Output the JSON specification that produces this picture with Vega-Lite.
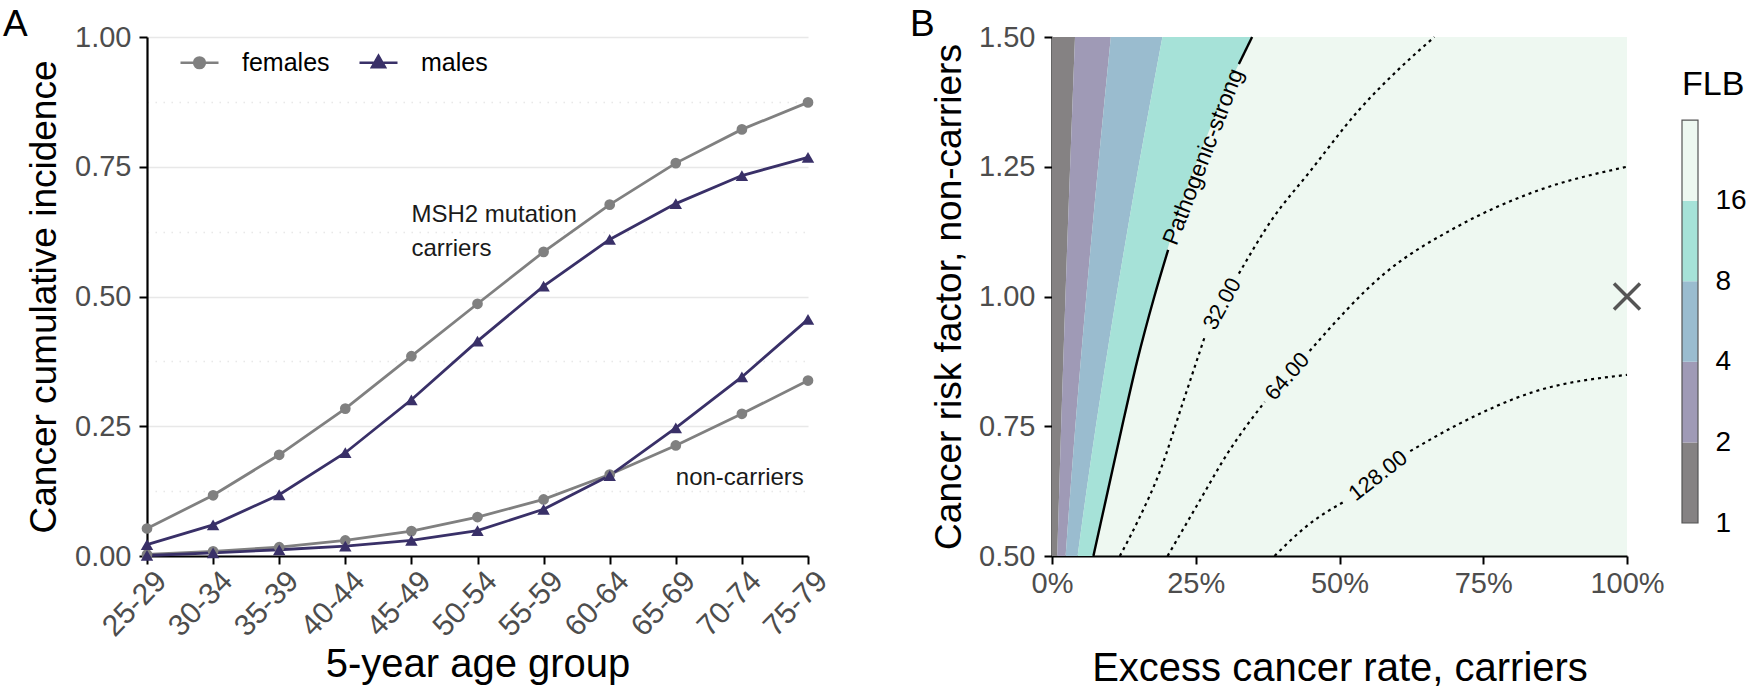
{
  "$schema": "https://vega.github.io/schema/vega-lite/v6.json",
  "background": "white",
  "padding": {"left": 3, "top": 6, "right": 0, "bottom": 0},
  "config": {
    "font": "Liberation Sans",
    "view": {"stroke": null},
    "axis": {"labelFont": "Liberation Sans", "titleFont": "Liberation Sans", "labelFontSize": 29, "titleFontSize": 37, "titleFontWeight": "normal", "labelColor": "#4d4d4d", "titleColor": "black", "domainColor": "black", "domainWidth": 2.2, "tickColor": "black", "tickWidth": 2, "tickSize": 8, "grid": false, "labelPadding": 8},
    "title": {"font": "Liberation Sans"},
    "legend": {"labelFont": "Liberation Sans"},
    "text": {"font": "Liberation Sans"}
  },
  "datasets": {
    "incidence": [
      {"age": "25-29", "sex": "females", "status": "carriers", "value": 0.053},
      {"age": "30-34", "sex": "females", "status": "carriers", "value": 0.117},
      {"age": "35-39", "sex": "females", "status": "carriers", "value": 0.195},
      {"age": "40-44", "sex": "females", "status": "carriers", "value": 0.284},
      {"age": "45-49", "sex": "females", "status": "carriers", "value": 0.385},
      {"age": "50-54", "sex": "females", "status": "carriers", "value": 0.486},
      {"age": "55-59", "sex": "females", "status": "carriers", "value": 0.586},
      {"age": "60-64", "sex": "females", "status": "carriers", "value": 0.677},
      {"age": "65-69", "sex": "females", "status": "carriers", "value": 0.757},
      {"age": "70-74", "sex": "females", "status": "carriers", "value": 0.822},
      {"age": "75-79", "sex": "females", "status": "carriers", "value": 0.874},
      {"age": "25-29", "sex": "males", "status": "carriers", "value": 0.022},
      {"age": "30-34", "sex": "males", "status": "carriers", "value": 0.060},
      {"age": "35-39", "sex": "males", "status": "carriers", "value": 0.118},
      {"age": "40-44", "sex": "males", "status": "carriers", "value": 0.199},
      {"age": "45-49", "sex": "males", "status": "carriers", "value": 0.301},
      {"age": "50-54", "sex": "males", "status": "carriers", "value": 0.414},
      {"age": "55-59", "sex": "males", "status": "carriers", "value": 0.520},
      {"age": "60-64", "sex": "males", "status": "carriers", "value": 0.610},
      {"age": "65-69", "sex": "males", "status": "carriers", "value": 0.679},
      {"age": "70-74", "sex": "males", "status": "carriers", "value": 0.733},
      {"age": "75-79", "sex": "males", "status": "carriers", "value": 0.768},
      {"age": "25-29", "sex": "females", "status": "non-carriers", "value": 0.003},
      {"age": "30-34", "sex": "females", "status": "non-carriers", "value": 0.009},
      {"age": "35-39", "sex": "females", "status": "non-carriers", "value": 0.017},
      {"age": "40-44", "sex": "females", "status": "non-carriers", "value": 0.030},
      {"age": "45-49", "sex": "females", "status": "non-carriers", "value": 0.048},
      {"age": "50-54", "sex": "females", "status": "non-carriers", "value": 0.075},
      {"age": "55-59", "sex": "females", "status": "non-carriers", "value": 0.109},
      {"age": "60-64", "sex": "females", "status": "non-carriers", "value": 0.157},
      {"age": "65-69", "sex": "females", "status": "non-carriers", "value": 0.213},
      {"age": "70-74", "sex": "females", "status": "non-carriers", "value": 0.274},
      {"age": "75-79", "sex": "females", "status": "non-carriers", "value": 0.338},
      {"age": "25-29", "sex": "males", "status": "non-carriers", "value": 0.001},
      {"age": "30-34", "sex": "males", "status": "non-carriers", "value": 0.006},
      {"age": "35-39", "sex": "males", "status": "non-carriers", "value": 0.012},
      {"age": "40-44", "sex": "males", "status": "non-carriers", "value": 0.019},
      {"age": "45-49", "sex": "males", "status": "non-carriers", "value": 0.030},
      {"age": "50-54", "sex": "males", "status": "non-carriers", "value": 0.049},
      {"age": "55-59", "sex": "males", "status": "non-carriers", "value": 0.090},
      {"age": "60-64", "sex": "males", "status": "non-carriers", "value": 0.155},
      {"age": "65-69", "sex": "males", "status": "non-carriers", "value": 0.247},
      {"age": "70-74", "sex": "males", "status": "non-carriers", "value": 0.345},
      {"age": "75-79", "sex": "males", "status": "non-carriers", "value": 0.456}
    ],
    "bands": [
      {"y": 0.5, "band": "1-2", "x": 0, "x2": 0.009}, {"y": 0.5, "band": "2-4", "x": 0.009, "x2": 0.0237}, {"y": 0.5, "band": "4-8", "x": 0.0237, "x2": 0.0445}, {"y": 0.5, "band": "8-16", "x": 0.0445, "x2": 0.072},
      {"y": 0.625, "band": "1-2", "x": 0, "x2": 0.0125}, {"y": 0.625, "band": "2-4", "x": 0.0125, "x2": 0.0319}, {"y": 0.625, "band": "4-8", "x": 0.0319, "x2": 0.0599}, {"y": 0.625, "band": "8-16", "x": 0.0599, "x2": 0.097},
      {"y": 0.75, "band": "1-2", "x": 0, "x2": 0.0159}, {"y": 0.75, "band": "2-4", "x": 0.0159, "x2": 0.0406}, {"y": 0.75, "band": "4-8", "x": 0.0406, "x2": 0.0763}, {"y": 0.75, "band": "8-16", "x": 0.0763, "x2": 0.122},
      {"y": 0.875, "band": "1-2", "x": 0, "x2": 0.0196}, {"y": 0.875, "band": "2-4", "x": 0.0196, "x2": 0.0499}, {"y": 0.875, "band": "4-8", "x": 0.0499, "x2": 0.0937}, {"y": 0.875, "band": "8-16", "x": 0.0937, "x2": 0.148},
      {"y": 1.0, "band": "1-2", "x": 0, "x2": 0.0234}, {"y": 1.0, "band": "2-4", "x": 0.0234, "x2": 0.0596}, {"y": 1.0, "band": "4-8", "x": 0.0596, "x2": 0.1119}, {"y": 1.0, "band": "8-16", "x": 0.1119, "x2": 0.178},
      {"y": 1.125, "band": "1-2", "x": 0, "x2": 0.0273}, {"y": 1.125, "band": "2-4", "x": 0.0273, "x2": 0.0697}, {"y": 1.125, "band": "4-8", "x": 0.0697, "x2": 0.1308}, {"y": 1.125, "band": "8-16", "x": 0.1308, "x2": 0.210},
      {"y": 1.25, "band": "1-2", "x": 0, "x2": 0.0315}, {"y": 1.25, "band": "2-4", "x": 0.0315, "x2": 0.0802}, {"y": 1.25, "band": "4-8", "x": 0.0802, "x2": 0.1505}, {"y": 1.25, "band": "8-16", "x": 0.1505, "x2": 0.249},
      {"y": 1.375, "band": "1-2", "x": 0, "x2": 0.0357}, {"y": 1.375, "band": "2-4", "x": 0.0357, "x2": 0.0911}, {"y": 1.375, "band": "4-8", "x": 0.0911, "x2": 0.171}, {"y": 1.375, "band": "8-16", "x": 0.171, "x2": 0.294},
      {"y": 1.5, "band": "1-2", "x": 0, "x2": 0.040}, {"y": 1.5, "band": "2-4", "x": 0.040, "x2": 0.1023}, {"y": 1.5, "band": "4-8", "x": 0.1023, "x2": 0.192}, {"y": 1.5, "band": "8-16", "x": 0.192, "x2": 0.348}
    ],
    "contours": [
      {"level": 16, "seg": "16a", "x": 0.072, "y": 0.5}, {"level": 16, "seg": "16a", "x": 0.097, "y": 0.625}, {"level": 16, "seg": "16a", "x": 0.122, "y": 0.75}, {"level": 16, "seg": "16a", "x": 0.148, "y": 0.875}, {"level": 16, "seg": "16a", "x": 0.178, "y": 1.0}, {"level": 16, "seg": "16a", "x": 0.202, "y": 1.09},
      {"level": 16, "seg": "16b", "x": 0.325, "y": 1.448}, {"level": 16, "seg": "16b", "x": 0.348, "y": 1.5},
      {"level": 32, "seg": "32a", "x": 0.118, "y": 0.5}, {"level": 32, "seg": "32a", "x": 0.150, "y": 0.569}, {"level": 32, "seg": "32a", "x": 0.189, "y": 0.667}, {"level": 32, "seg": "32a", "x": 0.228, "y": 0.797}, {"level": 32, "seg": "32a", "x": 0.267, "y": 0.927},
      {"level": 32, "seg": "32b", "x": 0.325, "y": 1.044}, {"level": 32, "seg": "32b", "x": 0.383, "y": 1.149}, {"level": 32, "seg": "32b", "x": 0.448, "y": 1.24}, {"level": 32, "seg": "32b", "x": 0.532, "y": 1.357}, {"level": 32, "seg": "32b", "x": 0.604, "y": 1.439}, {"level": 32, "seg": "32b", "x": 0.665, "y": 1.5},
      {"level": 64, "seg": "64a", "x": 0.201, "y": 0.5}, {"level": 64, "seg": "64a", "x": 0.254, "y": 0.601}, {"level": 64, "seg": "64a", "x": 0.306, "y": 0.699}, {"level": 64, "seg": "64a", "x": 0.37, "y": 0.797},
      {"level": 64, "seg": "64b", "x": 0.448, "y": 0.895}, {"level": 64, "seg": "64b", "x": 0.578, "y": 1.044}, {"level": 64, "seg": "64b", "x": 0.707, "y": 1.136}, {"level": 64, "seg": "64b", "x": 0.837, "y": 1.201}, {"level": 64, "seg": "64b", "x": 1.0, "y": 1.25},
      {"level": 128, "seg": "128a", "x": 0.387, "y": 0.5}, {"level": 128, "seg": "128a", "x": 0.448, "y": 0.562}, {"level": 128, "seg": "128a", "x": 0.51, "y": 0.606},
      {"level": 128, "seg": "128b", "x": 0.623, "y": 0.702}, {"level": 128, "seg": "128b", "x": 0.707, "y": 0.754}, {"level": 128, "seg": "128b", "x": 0.837, "y": 0.816}, {"level": 128, "seg": "128b", "x": 1.0, "y": 0.849}
    ],
    "labels": [
      {"label": "Pathogenic-strong", "x": 0.2635, "y": 1.269},
      {"label": "32.00", "x": 0.296, "y": 0.986},
      {"label": "64.00", "x": 0.409, "y": 0.846},
      {"label": "128.00", "x": 0.567, "y": 0.655}
    ],
    "marker": [{"x": 1.0, "y": 1.0}],
    "colorbar": [
      {"band": "1-2", "lo": 1, "hi": 2},
      {"band": "2-4", "lo": 2, "hi": 4},
      {"band": "4-8", "lo": 4, "hi": 8},
      {"band": "8-16", "lo": 8, "hi": 16},
      {"band": "16+", "lo": 16, "hi": 32}
    ]
  },
  "bounds": "flush",
  "spacing": 244,
  "resolve": {"scale": {"color": "independent", "shape": "independent"}, "legend": {"color": "independent"}},
  "hconcat": [
    {
      "width": 661,
      "height": 519,
      "title": {"text": "A", "anchor": "start", "frame": "group", "fontSize": 37, "fontWeight": "normal", "color": "black", "baseline": "alphabetic", "offset": 0, "dx": -144, "dy": 50},
      "data": {"name": "incidence"},
      "encoding": {
        "x": {"field": "age", "type": "ordinal", "scale": {"type": "point", "padding": 0}, "title": "5-year age group",
          "axis": {"labelAngle": -46, "labelAlign": "right", "labelBaseline": "middle", "labelOffset": 14, "labelPadding": 12, "labelOverlap": false, "labelFontSize": 30, "titlePadding": 3, "titleFontSize": 40}},
        "y": {"field": "value", "type": "quantitative", "scale": {"domain": [0, 1], "nice": false}, "title": "Cancer cumulative incidence",
          "axis": {"values": [0, 0.125, 0.25, 0.375, 0.5, 0.625, 0.75, 0.875, 1], "labelExpr": "datum.value % 0.25 === 0 ? format(datum.value, '.2f') : ''",
            "grid": true, "gridColor": "#e8e8e8", "gridWidth": 1.6,
            "gridDash": {"condition": {"test": "datum.value % 0.25 !== 0", "value": [1.5, 6.5]}, "value": []},
            "tickOpacity": {"condition": {"test": "datum.value % 0.25 !== 0", "value": 0}, "value": 1},
            "labelPadding": 8, "titlePadding": 11}}
      },
      "layer": [
        {
          "mark": {"type": "line", "strokeWidth": 2.8},
          "encoding": {
            "color": {"field": "sex", "type": "nominal", "scale": {"domain": ["females", "males"], "range": ["#808080", "#393068"]},
              "legend": {"title": null, "orient": "none", "legendX": 32, "legendY": 5, "direction": "horizontal", "symbolSize": 1444, "symbolStrokeWidth": 2.6, "labelFontSize": 25, "labelColor": "black", "labelOffset": 22, "columnPadding": 24, "padding": 0,
                "encode": {"symbols": {"update": {
                  "shape": {"signal": "datum.value === 'females' ? 'M-1,0L1,0M0.28,0A0.28,0.28 0 1,1 -0.28,0A0.28,0.28 0 1,1 0.28,0Z' : 'M-1,0L1,0M0,-0.36L0.34,0.24L-0.34,0.24Z'"},
                  "fill": {"signal": "datum.value === 'females' ? '#808080' : '#393068'"},
                  "stroke": {"signal": "datum.value === 'females' ? '#808080' : '#393068'"},
                  "strokeWidth": {"value": 2.6},
                  "opacity": {"value": 1}}}}}},
            "detail": {"field": "status"}
          }
        },
        {
          "transform": [{"filter": "datum.sex === 'females'"}],
          "mark": {"type": "point", "shape": "circle", "filled": true, "opacity": 1, "size": 115},
          "encoding": {"color": {"field": "sex", "type": "nominal"}}
        },
        {
          "transform": [{"filter": "datum.sex === 'males'"}],
          "mark": {"type": "point", "shape": "triangle-up", "filled": true, "opacity": 1, "size": 155},
          "encoding": {"color": {"field": "sex", "type": "nominal"}}
        },
        {
          "data": {"values": [
            {"age": "45-49", "value": 0.657, "label": "MSH2 mutation|carriers"},
            {"age": "65-69", "value": 0.151, "label": "non-carriers"}
          ]},
          "mark": {"type": "text", "align": "left", "baseline": "middle", "fontSize": 24, "lineBreak": "|", "lineHeight": 34, "color": "#1a1a1a"},
          "encoding": {"text": {"field": "label"}}
        }
      ]
    },
    {
      "bounds": "flush",
      "spacing": 55,
      "resolve": {"scale": {"color": "independent"}, "legend": {"color": "independent"}},
      "hconcat": [
        {
          "width": 575,
          "height": 519,
          "title": {"text": "B", "anchor": "start", "frame": "group", "fontSize": 37, "fontWeight": "normal", "color": "black", "baseline": "alphabetic", "offset": 0, "dx": -142, "dy": 50},
          "view": {"fill": "#eef8f1", "stroke": null},
          "encoding": {
            "x": {"field": "x", "type": "quantitative", "scale": {"domain": [0, 1], "nice": false}, "title": "Excess cancer rate, carriers",
              "axis": {"values": [0, 0.25, 0.5, 0.75, 1], "format": ".0%", "labelFlush": false, "labelPadding": 5, "titlePadding": 50, "titleFontSize": 40}},
            "y": {"field": "y", "type": "quantitative", "scale": {"domain": [0.5, 1.5], "nice": false}, "title": "Cancer risk factor, non-carriers",
              "axis": {"values": [0.5, 0.75, 1, 1.25, 1.5], "format": ".2f", "labelPadding": 9, "titlePadding": 10}}
          },
          "layer": [
            {
              "data": {"name": "bands"},
              "mark": {"type": "area", "orient": "horizontal", "interpolate": "monotone", "opacity": 1},
              "encoding": {
                "x": {"field": "x", "type": "quantitative", "stack": null},
                "x2": {"field": "x2"},
                "color": {"field": "band", "type": "nominal", "scale": {"domain": ["1-2", "2-4", "4-8", "8-16"], "range": ["#858283", "#9f9ab6", "#9abccf", "#a6e2d8"]}, "legend": null}
              }
            },
            {
              "data": {"name": "contours"},
              "transform": [{"filter": "datum.level === 16"}],
              "mark": {"type": "line", "color": "black", "strokeWidth": 2.4, "interpolate": "monotone"},
              "encoding": {"detail": {"field": "seg"}}
            },
            {
              "data": {"name": "contours"},
              "transform": [{"filter": "datum.level !== 16"}],
              "mark": {"type": "line", "color": "black", "strokeWidth": 2.2, "strokeDash": [3, 4], "interpolate": "monotone"},
              "encoding": {"detail": {"field": "seg"}}
            },
            {
              "data": {"name": "labels"},
              "transform": [{"filter": "datum.label === 'Pathogenic-strong'"}],
              "mark": {"type": "text", "angle": 291, "fontSize": 23, "color": "black", "align": "center", "baseline": "middle"},
              "encoding": {"text": {"field": "label"}}
            },
            {
              "data": {"name": "labels"},
              "transform": [{"filter": "datum.label === '32.00'"}],
              "mark": {"type": "text", "angle": 299, "fontSize": 22, "color": "black", "align": "center", "baseline": "middle"},
              "encoding": {"text": {"field": "label"}}
            },
            {
              "data": {"name": "labels"},
              "transform": [{"filter": "datum.label === '64.00'"}],
              "mark": {"type": "text", "angle": 311, "fontSize": 22, "color": "black", "align": "center", "baseline": "middle"},
              "encoding": {"text": {"field": "label"}}
            },
            {
              "data": {"name": "labels"},
              "transform": [{"filter": "datum.label === '128.00'"}],
              "mark": {"type": "text", "angle": 322, "fontSize": 22, "color": "black", "align": "center", "baseline": "middle"},
              "encoding": {"text": {"field": "label"}}
            },
            {
              "data": {"name": "marker"},
              "mark": {"type": "point", "shape": "M-1,-1L1,1M-1,1L1,-1", "filled": false, "color": "#555555", "strokeWidth": 3.5, "size": 676, "opacity": 1}
            }
          ]
        },
        {
          "width": 16,
          "height": 519,
          "title": {"text": "FLB", "anchor": "start", "frame": "group", "fontSize": 34, "fontWeight": "normal", "color": "black", "baseline": "alphabetic", "offset": 0, "dy": 92},
          "layer": [
            {
              "data": {"name": "colorbar"},
              "mark": {"type": "rect"},
              "encoding": {
                "y": {"field": "lo", "type": "quantitative", "scale": {"type": "log", "domain": [0.753, 65.4], "nice": false}, "title": null,
                  "axis": {"orient": "right", "values": [1, 2, 4, 8, 16], "format": "d", "domain": false, "ticks": false, "labelPadding": 17, "labelColor": "black", "labelFontSize": 28, "grid": false}},
                "y2": {"field": "hi"},
                "color": {"field": "band", "type": "nominal", "scale": {"domain": ["1-2", "2-4", "4-8", "8-16", "16+"], "range": ["#858283", "#9f9ab6", "#9abccf", "#a6e2d8", "#eef8f1"]}, "legend": null}
              }
            },
            {
              "data": {"values": [{"lo": 1, "hi": 32}]},
              "mark": {"type": "rect", "filled": false, "color": "#555555", "strokeWidth": 1.2},
              "encoding": {
                "y": {"field": "lo", "type": "quantitative"},
                "y2": {"field": "hi"}
              }
            }
          ]
        }
      ]
    }
  ]
}
